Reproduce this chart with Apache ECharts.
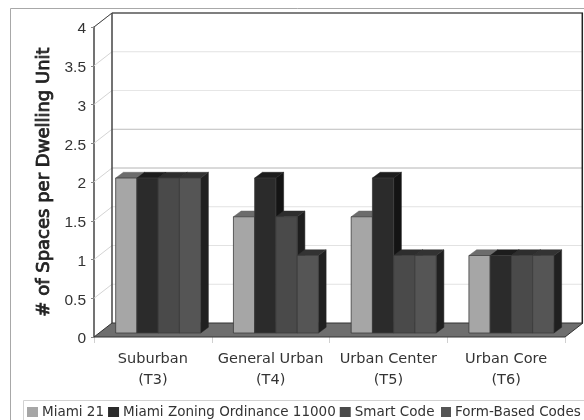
<!DOCTYPE html>
<html><head><meta charset="utf-8">
<style>html,body{margin:0;padding:0;background:#fff}#c{width:584px;height:420px}</style>
<script src="https://cdn.jsdelivr.net/npm/echarts@6/dist/echarts.min.js"></script>
</head><body><div id="c"></div>
<script>
const categories = ['Suburban\n(T3)', 'General Urban\n(T4)', 'Urban Center\n(T5)', 'Urban Core\n(T6)'];
const miami21 = [2, 1.5, 1.5, 1];
const zoning11000 = [2, 2, 2, 1];
const smartCode = [2, 1.5, 1, 1];
const formBased = [2, 1, 1, 1];
const wallTicks = [0.5, 1, 1.5, 2, 2.5, 3, 3.5, 4];
const gridColors = ['#e2e2e2', '#e2e2e2', '#e2e2e2', '#b4b4b4', '#bcbcbc', '#e6e6e6', '#e2e2e2', '#555'];

const DX = 18, DY = 14;          // full depth of the 3D box
const BX = 5.3, BY = 4;          // bar front plane offset
const BDX = 7.7, BDY = 5.7;      // bar depth
const GROUP = 85 / 117.75;

const chart = echarts.init(document.getElementById('c'), null, {renderer: 'canvas'});

function barSeries(name, values, idx, front, top, side) {
  return {
    name, type: 'custom', z: 5 + idx,
    itemStyle: {color: front},
    encode: {x: 0, y: 1},
    data: values.map((v, i) => [i, v]),
    renderItem(params, api) {
      const base = api.coord([api.value(0), 0]);
      const tip = api.coord([api.value(0), api.value(1)]);
      const band = api.size([1, 0])[0];
      const w = band * GROUP / 4;
      const x = base[0] + BX - band * GROUP / 2 + idx * w;
      const y0 = base[1] - BY, y1 = tip[1] - BY;
      return {type: 'group', children: [
        {type: 'polygon', shape: {points: [[x + w, y1], [x + w + BDX, y1 - BDY], [x + w + BDX, y0 - BDY], [x + w, y0]]},
          style: {fill: side, stroke: side, lineWidth: 0.5}},
        {type: 'polygon', shape: {points: [[x, y1], [x + BDX, y1 - BDY], [x + w + BDX, y1 - BDY], [x + w, y1]]},
          style: {fill: top, stroke: top, lineWidth: 0.5}},
        {type: 'rect', shape: {x, y: y1, width: w, height: y0 - y1},
          style: {fill: front, stroke: '#3c3c3c', lineWidth: 0.8}}
      ]};
    }
  };
}

const legendText = {fontFamily: 'DejaVu Sans', fontSize: 13.5, color: '#333', padding: [0, 0, 0, -1]};

const option = {
  animation: false,
  backgroundColor: '#fff',
  graphic: [
    {type: 'rect', shape: {x: 10.5, y: 8.5, width: 620, height: 500}, style: {fill: 'transparent', stroke: '#a8a8a8', lineWidth: 1}, z: -10},
    {type: 'rect', shape: {x: 23.5, y: 400.5, width: 620, height: 60}, style: {fill: '#fff', stroke: '#d2d2d2', lineWidth: 1}, z: -9}
  ],
  grid: {left: 94, right: 19, top: 27, bottom: 83},
  legend: [
    {left: 27, top: 405, icon: 'rect', itemWidth: 11, itemHeight: 10, itemGap: 4, padding: 0, selectedMode: false,
      textStyle: legendText, data: ['Miami 21', 'Miami Zoning Ordinance 11000', 'Smart Code']},
    {left: 441, top: 405, icon: 'rect', itemWidth: 10, itemHeight: 10, itemGap: 4, padding: 0, selectedMode: false,
      textStyle: legendText, data: ['Form-Based Codes']}
  ],
  xAxis: {
    type: 'category', data: categories,
    axisLine: {show: false},
    axisTick: {show: true, length: 6, lineStyle: {color: '#d0d0d0'}},
    axisLabel: {interval: 0, fontFamily: 'DejaVu Sans', fontSize: 14.5, color: '#333', lineHeight: 21, margin: 12}
  },
  yAxis: {
    type: 'value', min: 0, max: 4, interval: 0.5,
    name: '# of Spaces per Dwelling Unit', nameLocation: 'middle', nameGap: 41,
    nameTextStyle: {fontFamily: 'DejaVu Sans', fontSize: 18, color: '#222', textBorderColor: '#222', textBorderWidth: 0.8},
    axisLine: {show: true, lineStyle: {color: '#444', width: 1.5}},
    axisTick: {show: true, length: 3, lineStyle: {color: '#888'}},
    splitLine: {show: false},
    axisLabel: {
      margin: 8,
      formatter: v => '{a|' + v + '}',
      rich: {a: {fontFamily: 'Liberation Sans', fontSize: 15.5, color: '#333', padding: [4, 0, 0, 0]}}
    }
  },
  series: [
    {
      type: 'custom', z: 1, silent: true, legendHoverLink: false,
      encode: {x: 0, y: 1},
      data: [[0, 0]],
      renderItem(params, api) {
        const a = api.coord([0, 0]), band = api.size([1, 0])[0];
        const lx = a[0] - band / 2, rx = lx + band * 4, by = a[1];
        const ty = api.coord([0, 4])[1];
        const kids = [
          {type: 'polygon', shape: {points: [[lx + DX, ty - DY], [rx + DX, ty - DY], [rx + DX, by - DY], [lx + DX, by - DY]]},
            style: {fill: '#fff', stroke: 'none'}}
        ];
        wallTicks.forEach((t, i) => {
          const y = api.coord([0, t])[1];
          kids.push({type: 'polyline', shape: {points: [[lx, y], [lx + DX, y - DY]]},
            style: {fill: 'none', stroke: '#d4d4d4', lineWidth: 1}});
          kids.push({type: 'line', shape: {x1: lx + DX, y1: y - DY, x2: rx + DX, y2: y - DY},
            style: {stroke: gridColors[i], lineWidth: t === 4 ? 1.5 : 1}});
        });
        kids.push({type: 'line', shape: {x1: lx + DX, y1: ty - DY, x2: lx + DX, y2: by - DY},
          style: {stroke: '#444', lineWidth: 1.5}});
        kids.push({type: 'line', shape: {x1: rx + DX - 0.7, y1: ty - DY, x2: rx + DX - 0.7, y2: by - DY},
          style: {stroke: '#222', lineWidth: 1.5}});
        kids.push({type: 'polyline', shape: {points: [[lx, ty], [lx + DX, ty - DY]]},
          style: {fill: 'none', stroke: '#444', lineWidth: 1}});
        kids.push({type: 'polygon', shape: {points: [[lx, by], [lx + DX, by - DY], [rx + DX, by - DY], [rx, by]]},
          style: {fill: '#6e6e6e', stroke: '#333', lineWidth: 1}});
        return {type: 'group', children: kids};
      }
    },
    barSeries('Miami 21', miami21, 0, '#a6a6a6', '#6c6c6c', '#4c4c4c'),
    barSeries('Miami Zoning Ordinance 11000', zoning11000, 1, '#2b2b2b', '#1d1d1d', '#141414'),
    barSeries('Smart Code', smartCode, 2, '#4a4a4a', '#2e2e2e', '#1e1e1e'),
    barSeries('Form-Based Codes', formBased, 3, '#555555', '#333333', '#202020')
  ]
};
chart.setOption(option);
</script>
</body></html>
